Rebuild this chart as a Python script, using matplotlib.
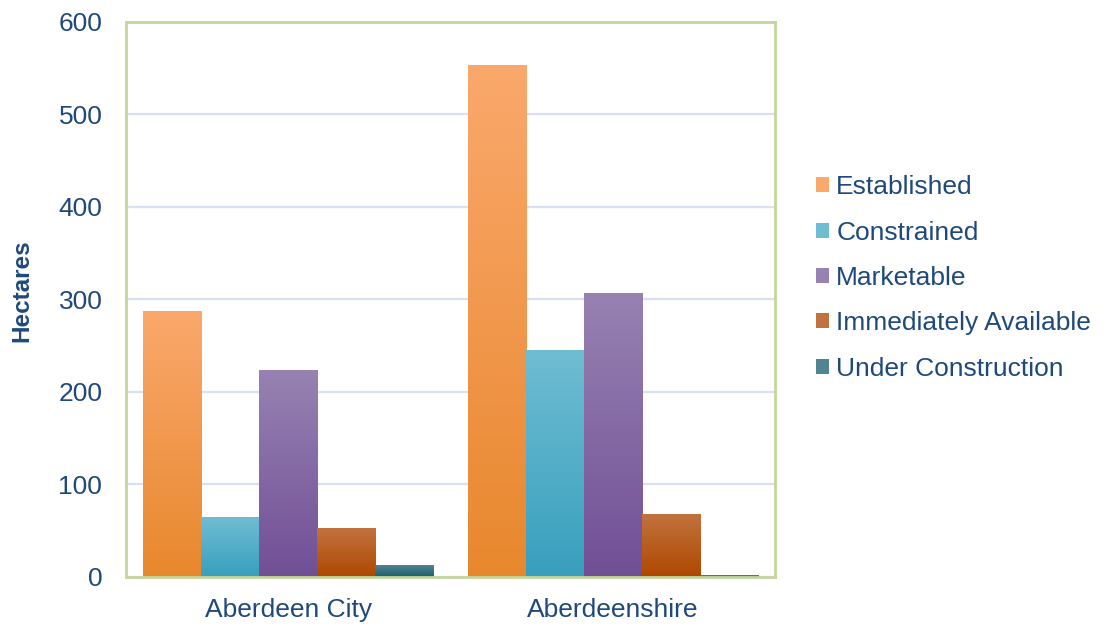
import matplotlib.pyplot as plt
import numpy as np
from matplotlib.colors import LinearSegmentedColormap
from matplotlib.patches import Patch

plt.rcParams['font.family'] = ['Liberation Sans', 'DejaVu Sans']

regions = ['Aberdeen City', 'Aberdeenshire']
series = ['Established', 'Constrained', 'Marketable', 'Immediately Available', 'Under Construction']
established = [287, 553]
constrained = [64, 245]
marketable = [223, 307]
immediately = [52, 68]
under_construction = [12, 2]
values = [established, constrained, marketable, immediately, under_construction]

# (top colour, bottom colour) of each bar gradient
grads = [('#FAA86C', '#E8882E'),
         ('#6FBDD3', '#389FBD'),
         ('#9782B2', '#714F96'),
         ('#C2723F', '#AE4800'),
         ('#4F8593', '#1D5E6E')]
text_col = '#1F497D'

fig = plt.figure(figsize=(11.09, 6.26), dpi=100)
ax = fig.add_axes([0.1136, 0.0783, 0.5852, 0.8866])

x = np.arange(len(regions))
w = 0.179
gradient = np.linspace(1, 0, 256).reshape(-1, 1)
for i, (name, vals) in enumerate(zip(series, values)):
    offs = (i - 2) * w
    bars = ax.bar(x + offs, vals, w, color='none', zorder=2)
    cmap = LinearSegmentedColormap.from_list(name, [grads[i][1], grads[i][0]])
    for b in bars:
        bx, by = b.get_x(), b.get_y()
        ax.imshow(gradient, cmap=cmap, aspect='auto', zorder=2,
                  extent=[bx, bx + b.get_width(), by, by + b.get_height()],
                  vmin=0, vmax=1)

ax.set_xlim(-0.5, 1.5)
ax.set_ylim(0, 600)
ax.set_yticks(range(0, 601, 100))
ax.set_xticks(x)
ax.set_xticklabels(regions)
ax.yaxis.grid(True, color='#D6E2F1', linewidth=1.6, zorder=0)
ax.set_axisbelow(True)
ax.tick_params(length=0, labelsize=19, labelcolor=text_col)
ax.tick_params(axis='y', pad=17)
ax.tick_params(axis='x', pad=15)
for s in ax.spines.values():
    s.set_color('#C3D69B')
    s.set_linewidth(2)
ax.set_ylabel('Hectares', fontsize=17.5, fontweight='bold', color=text_col)
ax.yaxis.set_label_coords(-0.142, 0.515)

handles = [Patch(facecolor=g[0], edgecolor='none') for g in grads]
leg = fig.legend(handles, series, loc='center left', bbox_to_anchor=(0.7144, 0.556),
                 frameon=False, fontsize=19, labelcolor=text_col,
                 handlelength=0.5, handleheight=0.5, handletextpad=0.27,
                 labelspacing=0.81)

fig.savefig('out.png', dpi=100)
